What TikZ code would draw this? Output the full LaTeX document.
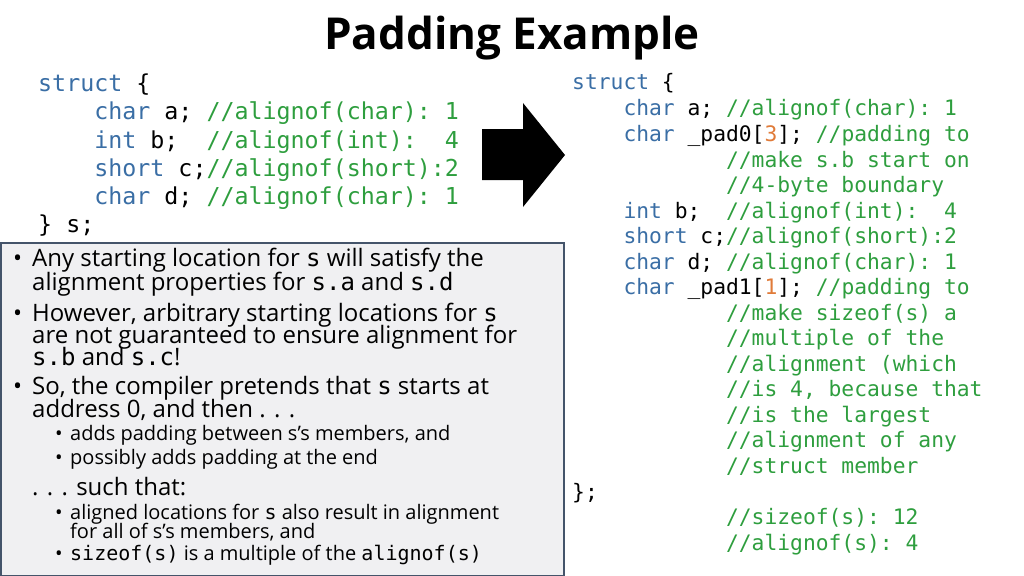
\documentclass[tikz,border=0pt]{standalone}
\usepackage{fontspec}
\setmainfont{Open Sans}
\setmonofont{DejaVu Sans Mono}
\definecolor{kwc}{HTML}{3A6EA5}
\definecolor{cmc}{HTML}{2E9E3E}
\definecolor{nmc}{HTML}{E07B39}
\definecolor{boxf}{HTML}{F0F0F2}
\definecolor{boxd}{HTML}{44546A}
\newcommand{\kw}[1]{\textcolor{kwc}{#1}}
\newcommand{\cm}[1]{\textcolor{cmc}{#1}}
\newcommand{\nm}[1]{\textcolor{nmc}{#1}}
\begin{document}
\begin{tikzpicture}[x=1pt,y=-1pt,
  lc/.style={anchor=base west,inner sep=0pt,font=\fontsize{23.3}{26}\ttfamily},
  rc/.style={anchor=base west,inner sep=0pt,font=\fontsize{21.3}{24}\ttfamily},
  bt/.style={anchor=base west,inner sep=0pt,font=\fontsize{24}{26}\selectfont},
  st/.style={anchor=base west,inner sep=0pt,font=\fontsize{20}{22}\selectfont},
  dot/.style={anchor=base,inner sep=0pt}]
\useasboundingbox (0,0) rectangle (1024,575);
\node[inner sep=0pt,font=\fontsize{44}{48}\bfseries] (title) at (512,38) {Padding Example};
% left code
\node[lc] (l1) at (38,92) {\kw{struct} \{};
\node[lc] (l2) at (38,120) {~~~~\kw{char} a; \cm{//alignof(char): 1}};
\node[lc] (l3) at (38,148) {~~~~\kw{int} b;~~\cm{//alignof(int):~~4}};
\node[lc] (l4) at (38,176) {~~~~\kw{short} c;\cm{//alignof(short):2}};
\node[lc] (l5) at (38,204) {~~~~\kw{char} d; \cm{//alignof(char): 1}};
\node[lc] (l6) at (38,232) {\} s;};
% arrow
\fill (482,129) -- (523,129) -- (523,103) -- (565,155) -- (523,207) -- (523,180) -- (482,180) -- cycle;
% right code
\foreach \i/\y/\t in {
 1/90/{\kw{struct} \{},
 2/116/{~~~~\kw{char} a; \cm{//alignof(char): 1}},
 3/141/{~~~~\kw{char} \_pad0[\nm{3}]; \cm{//padding to}},
 4/167/{~~~~~~~~~~~~\cm{//make s.b start on}},
 5/192/{~~~~~~~~~~~~\cm{//4-byte boundary}},
 6/218/{~~~~\kw{int} b;~~\cm{//alignof(int):~~4}},
 7/243/{~~~~\kw{short} c;\cm{//alignof(short):2}},
 8/269/{~~~~\kw{char} d; \cm{//alignof(char): 1}},
 9/294/{~~~~\kw{char} \_pad1[\nm{1}]; \cm{//padding to}},
 10/320/{~~~~~~~~~~~~\cm{//make sizeof(s) a}},
 11/345/{~~~~~~~~~~~~\cm{//multiple of the}},
 12/371/{~~~~~~~~~~~~\cm{//alignment (which}},
 13/396/{~~~~~~~~~~~~\cm{//is 4, because that}},
 14/422/{~~~~~~~~~~~~\cm{//is the largest}},
 15/447/{~~~~~~~~~~~~\cm{//alignment of any}},
 16/473/{~~~~~~~~~~~~\cm{//struct member}},
 17/499/{\};},
 18/524/{~~~~~~~~~~~~\cm{//sizeof(s): 12}},
 19/550/{~~~~~~~~~~~~\cm{//alignof(s): 4}}}
 \node[rc] (r\i) at (572,\y) {\t};
% box
\draw[boxd,fill=boxf,line width=1.5pt] (1,243) rectangle (564,576);
\node[bt] (d1) at (13,266) {•};
\node[bt] (b1) at (32,266) {Any starting location for \texttt{s} will satisfy the};
\node[bt] (b2) at (32,290) {alignment properties for \texttt{s.a} and \texttt{s.d}};
\node[bt] (d2) at (13,321) {•};
\node[bt] (b3) at (32,321) {However, arbitrary starting locations for \texttt{s}};
\node[bt] (b4) at (32,343) {are not guaranteed to ensure alignment for};
\node[bt] (b5) at (32,365) {\texttt{s.b} and \texttt{s.c}!};
\node[bt] (d3) at (13,394) {•};
\node[bt] (b6) at (32,394) {So, the compiler pretends that \texttt{s} starts at};
\node[bt] (b7) at (32,417) {address 0, and then . . .};
\node[st] (d4) at (55,440) {•};
\node[st] (s1) at (70,440) {adds padding between s’s members, and};
\node[st] (d5) at (55,464) {•};
\node[st] (s2) at (70,464) {possibly adds padding at the end};
\node[bt] (b8) at (32,495) {. . . such that:};
\node[st] (d6) at (55,519) {•};
\node[st] (s3) at (70,519) {aligned locations for \texttt{s} also result in alignment};
\node[st] (s4) at (70,538) {for all of s’s members, and};
\node[st] (d7) at (55,560) {•};
\node[st] (s5) at (70,560) {\texttt{sizeof(s)} is a multiple of the \texttt{alignof(s)}};
\end{tikzpicture}
\end{document}
